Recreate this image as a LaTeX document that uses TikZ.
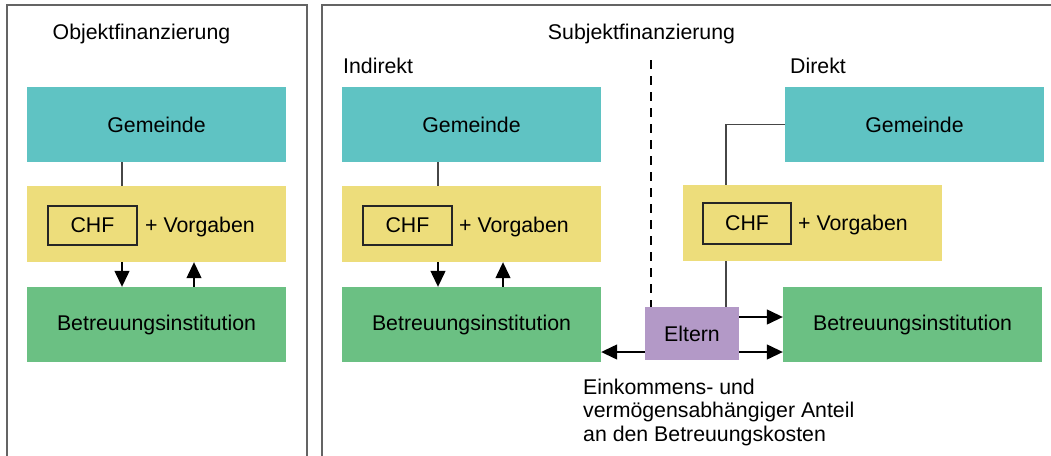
\documentclass[tikz,border=0pt]{standalone}
\usepackage{fontspec}
\setmainfont{Liberation Sans}
\usetikzlibrary{arrows.meta}
\definecolor{cteal}{RGB}{95,195,195}
\definecolor{cyellow}{RGB}{237,221,123}
\definecolor{cgreen}{RGB}{107,192,131}
\definecolor{cpurple}{RGB}{179,153,199}
\definecolor{cframe}{RGB}{100,100,100}
\definecolor{cline}{RGB}{70,70,70}
\begin{document}
\begin{tikzpicture}[x=1pt,y=-1pt,
  every node/.style={font=\fontsize{21.3}{23.5}\selectfont, inner sep=0pt},
  bigbox/.style={minimum width=259pt, minimum height=75pt},
  chfbox/.style={draw=black!85, line width=1.2pt, minimum width=89pt, minimum height=39pt},
  frame/.style={draw=cframe, line width=1.6pt},
  conn/.style={draw=cline, line width=1.3pt},
  arr/.style={draw=black, line width=1.3pt, -{Triangle[length=16pt,width=15pt]}}]
\clip (0,0) rectangle (1051,455);
\fill[white] (0,0) rectangle (1051,455);
% frames
\draw[frame] (7,470) -- (7,5) -- (307,5) -- (307,470);
\draw[frame] (322,470) -- (322,5) -- (1060,5);
% titles
\node (t1) at (141.5,33.5) {Objektfinanzierung};
\node (t2) at (641.5,33.5) {Subjektfinanzierung};
\node[anchor=west] (t3) at (343,65.5) {Indirekt};
\node[anchor=west] (t4) at (790,65.5) {Direkt};
% left column
\node[bigbox, fill=cteal] (g1) at (156.5,124.5) {Gemeinde};
\node[bigbox, fill=cyellow, minimum height=76pt] (y1) at (156.5,224) {};
\node[chfbox] (c1) at (92.5,225.5) {CHF};
\node[anchor=west] (v1) at (145,227) {+ Vorgaben};
\node[bigbox, fill=cgreen] (b1) at (156.5,324.5) {Betreuungsinstitution};
% middle column
\node[bigbox, fill=cteal] (g2) at (471.5,124.5) {Gemeinde};
\node[bigbox, fill=cyellow, minimum height=76pt] (y2) at (471.5,224) {};
\node[chfbox] (c2) at (407.5,225.5) {CHF};
\node[anchor=west] (v2) at (459,227) {+ Vorgaben};
\node[bigbox, fill=cgreen] (b2) at (471.5,324.5) {Betreuungsinstitution};
% right column
\node[bigbox, fill=cteal] (g3) at (914.5,124.5) {Gemeinde};
\node[bigbox, fill=cyellow, minimum height=76pt] (y3) at (812.5,223) {};
\node[chfbox, minimum width=88pt, minimum height=41pt] (c3) at (747,223.5) {CHF};
\node[anchor=west] (v3) at (798,225) {+ Vorgaben};
\node[bigbox, fill=cgreen] (b3) at (912.5,324.5) {Betreuungsinstitution};
% Eltern
\node[fill=cpurple, minimum width=94pt, minimum height=53pt] (el) at (692,333.5) {Eltern};
% dashed divider
\coordinate (d1) at (651,60);
\draw[black, line width=2pt, dash pattern=on 9pt off 7pt] (d1) -- (d1 |- el.north);
% connector x positions
\coordinate (xa) at (122,0);
\coordinate (xb) at (194,0);
\coordinate (xc) at (438,0);
\coordinate (xd) at (503,0);
\coordinate (xe) at (726,0);
\coordinate (ya) at (0,317);
\coordinate (yb) at (0,352);
% left connectors
\draw[conn] (xa |- g1.south) -- (xa |- y1.north);
\draw[arr] (xa |- y1.south) -- (xa |- b1.north);
\draw[arr] (xb |- b1.north) -- (xb |- y1.south);
% middle connectors
\draw[conn] (xc |- g2.south) -- (xc |- y2.north);
\draw[arr] (xc |- y2.south) -- (xc |- b2.north);
\draw[arr] (xd |- b2.north) -- (xd |- y2.south);
% right connectors
\draw[conn] (g3.west) -| (xe |- y3.north);
\draw[conn] (xe |- y3.south) -- (xe |- el.north);
\draw[arr] (el.east |- ya) -- (b3.west |- ya);
\draw[arr] (el.east |- yb) -- (b3.west |- yb);
\draw[arr] (el.west |- yb) -- (b2.east |- yb);
% note
\node[anchor=west, align=left] (note) at (583,412) {Einkommens- und\\vermögensabhängiger Anteil\\an den Betreuungskosten};
\end{tikzpicture}
\end{document}
